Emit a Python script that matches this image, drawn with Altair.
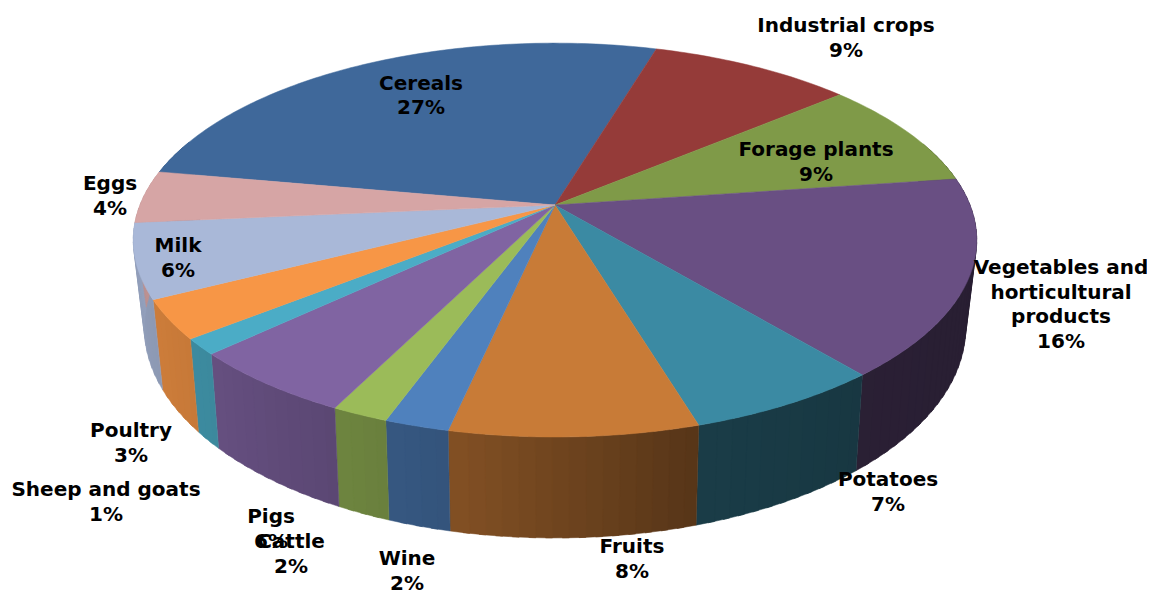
import altair as alt
import numpy as np
import pandas as pd

names = ["Cereals", "Industrial  crops", "Forage plants", "Vegetables and\nhorticultural\nproducts", "Potatoes",
         "Fruits", "Wine", "Cattle", "Pigs", "Sheep and goats", "Poultry", "Milk", "Eggs"]
values = [26.75, 9.25, 8.9, 16.2, 6.4, 8.05, 2.1, 1.85, 5.6, 1.3, 3.2, 6.1, 4.3]
percent_labels = ["27%", "9%", "9%", "16%", "7%", "8%", "2%", "2%", "6%", "1%", "3%", "6%", "4%"]
top_colors = ["#3f689a", "#953b39", "#7f9a48", "#694f83", "#3b8aa3", "#c87b37", "#4f81bd",
              "#9bbb59", "#8064a2", "#4bacc6", "#f79646", "#a9b8d8", "#d6a5a5"]

# Label anchors (page pixels): centre x, centre y of the first line
label_x = [421, 846, 816, 1061, 888, 632, 407, 291, 271, 106, 131, 178, 110]
label_y = [81.5, 24, 148, 266, 478, 545, 557, 540, 515, 488, 429, 244, 182]
FONT_SIZE = 20
LINE_H = 24.5

# Perspective of the disc
START = -79.7
XC = 555
TOP = dict(a=415.0, b=190.7, k=0.178, y0=205.0)
BOT = dict(a=403.5, b=203.0, k=0.186, y0=288.6)
SHADE_A = [100, 140, 165, 192, 207, 229, 243, 280]
SHADE_F = [.38, .40, .44, .65, .71, .80, .83, .90]


def project(deg, p):
    t = np.radians(deg)
    u, v = np.sin(t), np.cos(t)
    w = 1 + p["k"] * v
    return [float(XC + p["a"] * u / w), float(p["y0"] - p["b"] * v / w)]


def darker(hex_color, f):
    c = [int(hex_color[i:i + 2], 16) for i in (1, 3, 5)]
    return "#%02x%02x%02x" % tuple(int(round(x * f)) for x in c)


def feature(ring, color):
    return {"type": "Feature", "properties": {"fill": color},
            "geometry": {"type": "Polygon", "coordinates": [ring + [ring[0]]]}}


total = sum(values)
edges = START + np.cumsum([0] + values) * 360 / total

walls, tops = [], []
for i, col in enumerate(top_colors):
    a0, a1 = edges[i], edges[i + 1]
    steps = np.linspace(a0, a1, max(2, int((a1 - a0) / 2.0) + 2))
    for s0, s1 in zip(steps[:-1], steps[1:]):
        mid = (s0 + s1) / 2 % 360
        if 70 < mid < 290:
            f = float(np.interp(mid, SHADE_A, SHADE_F))
            # strips overlap slightly inside a slice so that no seam shows
            e0, e1 = max(a0, s0 - 0.4), min(a1, s1 + 0.4)
            ring = [project(e0, TOP), project(e1, TOP), project(e1, BOT), project(e0, BOT)]
            walls.append(feature(ring, darker(col, f)))
    arc = [project(s, TOP) for s in np.linspace(a0, a1, max(3, int(a1 - a0) + 2))]
    tops.append(feature([[XC, TOP["y0"]]] + arc, col))

proj = dict(type="identity", scale=1, translate=[-8, -8])


def shapes(features, sw):
    return alt.Chart(alt.Data(values=features)).mark_geoshape(strokeWidth=sw).encode(
        fill=alt.Fill("properties.fill:N", scale=None),
        stroke=alt.Stroke("properties.fill:N", scale=None),
    ).project(**proj)


label_df = pd.DataFrame({
    "text": [n + "\n" + p for n, p in zip(names, percent_labels)],
    "lon": label_x,
    "lat": [y - FONT_SIZE * 0.4 for y in label_y],
})
labels = alt.Chart(label_df).mark_text(
    font="DejaVu Sans", fontWeight="bold", fontSize=FONT_SIZE, color="#000000",
    align="center", baseline="top", lineBreak="\n", lineHeight=LINE_H,
).encode(longitude="lon:Q", latitude="lat:Q", text="text:N").project(**proj)

chart = alt.layer(shapes(walls, 0.5), shapes(tops, 0.5), labels).properties(
    width=1139, height=586, padding=0, background="#ffffff",
    autosize=alt.AutoSizeParams(type="none"),
).configure_view(stroke=None)

chart.save("out.html", embed_options={"renderer": "svg", "actions": False})
